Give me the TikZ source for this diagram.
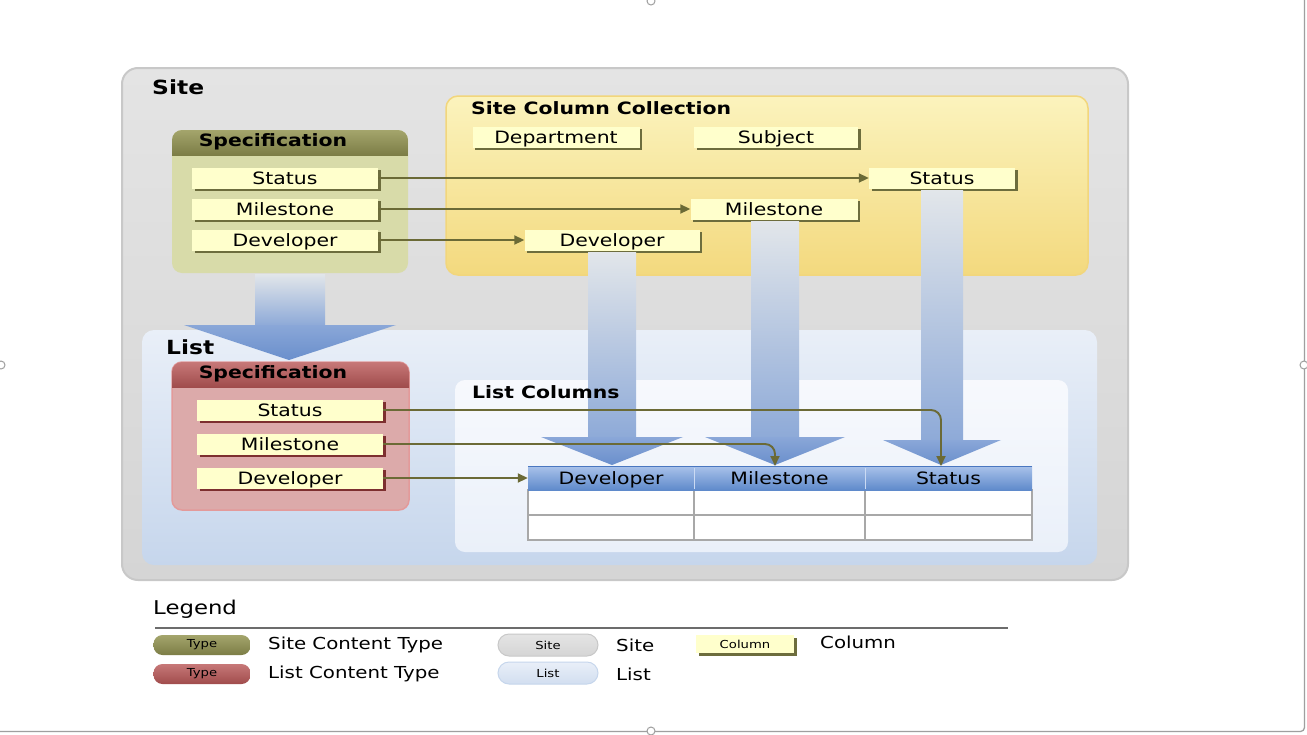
\documentclass[tikz,border=0pt]{standalone}
\usepackage{fontspec}
\setmainfont[FakeStretch=1.2]{DejaVu Sans}
\usetikzlibrary{arrows.meta,shadows,calc}
\definecolor{siteTop}{HTML}{E4E4E4}
\definecolor{siteBot}{HTML}{D5D5D5}
\definecolor{siteBorder}{HTML}{C8C8C8}
\definecolor{ycTop}{HTML}{FBF3BD}
\definecolor{ycBot}{HTML}{F3D97E}
\definecolor{ycBorder}{HTML}{F2D67C}
\definecolor{listTop}{HTML}{E9EFF8}
\definecolor{listBot}{HTML}{C6D6EC}
\definecolor{lcTop}{HTML}{F7F9FD}
\definecolor{lcBot}{HTML}{EAF0F9}
\definecolor{oliveBody}{HTML}{D8DBA9}
\definecolor{oliveHdTop}{HTML}{A4A56C}
\definecolor{oliveHdBot}{HTML}{7C7D46}
\definecolor{redBody}{HTML}{DCAAAA}
\definecolor{redHdTop}{HTML}{C77878}
\definecolor{redHdBot}{HTML}{A04C4C}
\definecolor{redBorder}{HTML}{E39A9A}
\definecolor{itemY}{HTML}{FFFFCC}
\definecolor{oliveShadow}{HTML}{6D6D3D}
\definecolor{redShadow}{HTML}{7D2F2F}
\definecolor{connC}{HTML}{6B6A36}
\definecolor{shaftTop}{HTML}{E2E6EA}
\definecolor{shaftBot}{HTML}{8EAAD8}
\definecolor{headTop}{HTML}{8AA7D8}
\definecolor{headBot}{HTML}{6A8FCC}
\definecolor{thTop}{HTML}{A9C2EA}
\definecolor{thBot}{HTML}{5F8ACB}
\definecolor{thLine}{HTML}{4A77C0}
\definecolor{gridC}{HTML}{A8A8A8}
\newcommand\fsz[1]{\fontsize{#1}{#1}\selectfont}
\newcommand\bluearrow[7]{% cx, ytop, yhead, ytip, shaft half, head half, tipx
  \shade[top color=shaftTop,bottom color=shaftBot] (#1-#5,#2) rectangle (#1+#5,#3);
  \shade[top color=headTop,bottom color=headBot] (#1-#6,#3) -- (#1+#6,#3) -- (#7,#4) -- cycle;}
\begin{document}
\begin{tikzpicture}[x=1pt,y=-1pt,
  item/.style={fill=itemY, inner sep=0pt, minimum height=21pt, font=\fsz{17}, text=black,
     text height=12pt, text depth=0pt,
     general shadow={fill=oliveShadow, shadow xshift=2.5pt, shadow yshift=-2.5pt}},
  ritem/.style={item, general shadow={fill=redShadow, shadow xshift=2.5pt, shadow yshift=-2.5pt}},
  ttl/.style={anchor=west, font=\bfseries\fsz{17}, inner sep=0pt},
  conn/.style={draw=connC, line width=1.9pt, -{Triangle[length=10pt,width=9pt]}},
  hcell/.style={inner sep=0pt, minimum height=24pt, font=\fsz{17}, text height=12pt, text depth=0pt},
  pill/.style={rounded corners=9pt, inner sep=0pt, minimum height=20pt, minimum width=97pt, font=\fsz{11}},
  lgtext/.style={anchor=west, font=\fsz{16.5}, inner sep=0pt}]
\useasboundingbox (0,0) rectangle (1307,734);
\fill[white] (0,0) rectangle (1307,734);
% frame of the slide
\draw[gray!75, line width=1.3pt, rounded corners=4pt] (1304.5,0) -- (1304.5,731.5) -- (0,731.5);
\foreach \p in {(651,1),(1,365),(1304,365),(651,731)}
  \draw[gray!75, fill=white, line width=1pt] \p circle[radius=4];

% Site box
\shade[top color=siteTop, bottom color=siteBot, draw=siteBorder, line width=2pt, rounded corners=16pt]
  (122,68) rectangle (1128,580);
\node[ttl, font=\bfseries\fsz{19.5}] (siteT) at (152,87) {Site};

% Site column collection
\shade[top color=ycTop, bottom color=ycBot, draw=ycBorder, line width=1.5pt, rounded corners=12pt]
  (446,96) rectangle (1088,275);
\node[ttl] (sccT) at (471,108) {Site Column Collection};

% Site spec (olive)
\fill[oliveBody, rounded corners=10pt] (172,130) rectangle (408,273);
\begin{scope}
  \clip[rounded corners=10pt] (172,130) rectangle (408,273);
  \shade[top color=oliveHdTop, bottom color=oliveHdBot] (172,130) rectangle (408,155);
\end{scope}
\node[font=\bfseries\fsz{17}] (sSpec) at (273,142) {Specification};
\node[item, minimum width=186pt] (sStatus) at (285,178) {Status};
\node[item, minimum width=186pt] (sMile) at (285,209) {Milestone};
\node[item, minimum width=186pt] (sDev) at (285,240) {Developer};

% Site column items
\node[item, minimum width=167pt] (cDept) at (556,137) {Department};
\node[item, minimum width=164pt] (cSubj) at (776,137) {Subject};
\node[item, minimum width=146pt] (cStatus) at (942,178) {Status};
\node[item, minimum width=167pt] (cMile) at (774,209) {Milestone};
\node[item, minimum width=175pt] (cDev) at (612,240) {Developer};

% List box
\shade[top color=listTop, bottom color=listBot, rounded corners=12pt] (142,330) rectangle (1097,565);
\node[ttl, font=\bfseries\fsz{19.5}] (listT) at (166,347) {List};

% List columns box
\shade[top color=lcTop, bottom color=lcBot, rounded corners=10pt] (455,380) rectangle (1068,552);

% List spec (red)
\fill[redBody, draw=redBorder, line width=1.5pt, rounded corners=10pt] (172,362) rectangle (409,510);
\begin{scope}
  \clip[rounded corners=10pt] (172,362) rectangle (409,510);
  \shade[top color=redHdTop, bottom color=redHdBot] (172,362) rectangle (409,387);
\end{scope}
\node[font=\bfseries\fsz{17}] (lSpec) at (273,374) {Specification};
\node[ritem, minimum width=186pt] (lStatus) at (290,410) {Status};
\node[ritem, minimum width=186pt] (lMile) at (290,444) {Milestone};
\node[ritem, minimum width=186pt] (lDev) at (290,478) {Developer};

% big blue arrows
\bluearrow{290}{274}{325}{360}{35}{106}{289}
\bluearrow{612}{252}{437}{465}{24}{71}{612}
\bluearrow{775}{221}{437}{465}{24}{70}{775}
\bluearrow{942}{190}{440}{465}{21}{59}{941}
\node[ttl] (lcT) at (472,392) {List Columns};

% table
\fill[white] (528,490) rectangle (1032,540);
\draw[gridC, line width=1.2pt] (528,490) rectangle (1032,540);
\draw[gridC, line width=1.2pt] (528,515) -- (1032,515);
\draw[gridC, line width=1.2pt] (694,490) -- (694,540) (865,490) -- (865,540);
\shade[top color=thTop, bottom color=thBot] (528,466) rectangle (1032,490);
\draw[thLine, line width=1.5pt] (528,466.5) -- (1032,466.5);
\draw[thTop!60!white, line width=0.8pt] (694,468) -- (694,489) (865,468) -- (865,489);
\node[hcell, minimum width=166pt] (hDev) at (611,478) {Developer};
\node[hcell, minimum width=171pt] (hMile) at (779.5,478) {Milestone};
\node[hcell, minimum width=167pt] (hStatus) at (948.5,478) {Status};
\coordinate (tipM) at (775,466);
\coordinate (tipS) at (941,466);

% connectors
\draw[conn] (sStatus.east) -- (cStatus.west);
\draw[conn] (sMile.east) -- (cMile.west);
\draw[conn] (sDev.east) -- (cDev.west);
\draw[conn, rounded corners=10pt] (lStatus.east) -| (tipS);
\draw[conn, rounded corners=10pt] (lMile.east) -| (tipM);
\draw[conn] (lDev.east) -- (hDev.west);

% legend
\node[lgtext, font=\fsz{19}] (legT) at (153,609) {Legend};
\coordinate (legL) at (155,628);
\coordinate (legR) at (1008,628);
\draw[gray!85!black, line width=2pt] (legL) -- (legR);
\node[pill, top color=oliveHdTop, bottom color=oliveHdBot] (pSite) at (202,645) {Type};
\node[lgtext] (tSite) at (268,645) {Site Content Type};
\node[pill, top color=redHdTop, bottom color=redHdBot] (pList) at (202,674) {Type};
\node[lgtext] (tList) at (268,674) {List Content Type};
\node[pill, rounded corners=11pt, minimum width=100pt, minimum height=22pt, top color=siteTop, bottom color=siteBot, draw=siteBorder, line width=1pt] (pS) at (548,645) {Site};
\node[lgtext] (tS) at (616,645) {Site};
\node[pill, rounded corners=11pt, minimum width=100pt, minimum height=22pt, top color=listTop, bottom color=listBot!80!white, draw=listBot, line width=1pt] (pL) at (548,673) {List};
\node[lgtext] (tL) at (616,674) {List};
\node[item, minimum width=98pt, minimum height=18pt, font=\fsz{11}, text height=8pt, text depth=0pt] (pC) at (745,644) {Column};
\node[lgtext] (tC) at (820,642) {Column};
\end{tikzpicture}
\end{document}
